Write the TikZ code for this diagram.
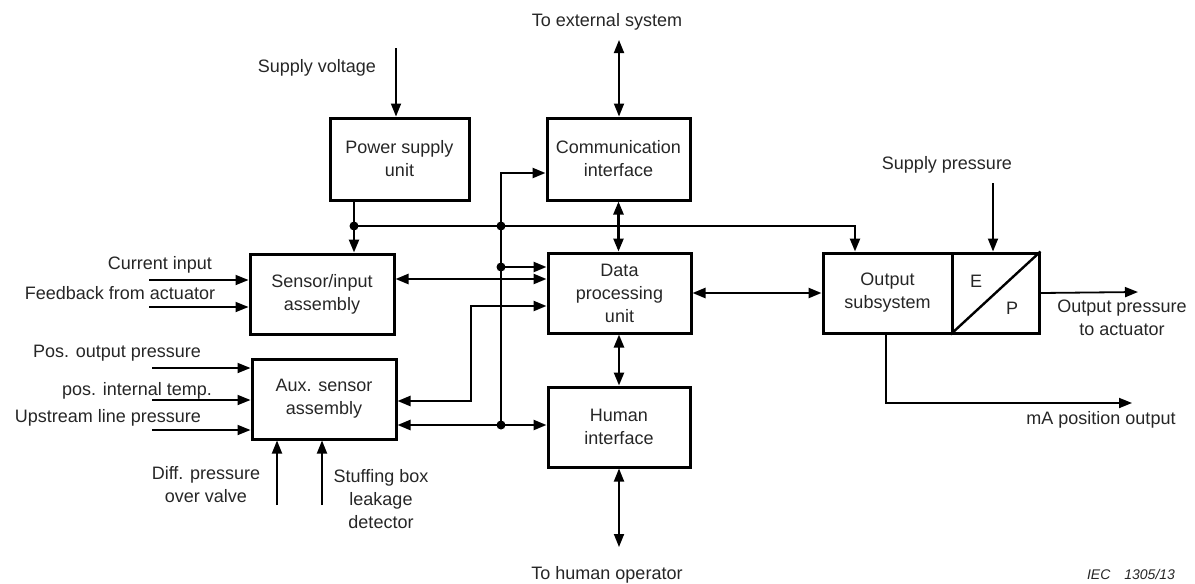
\documentclass[tikz,border=0pt]{standalone}
\usepackage{fontspec}
\setmainfont{Liberation Sans}
\usetikzlibrary{arrows.meta,calc}
\begin{document}
\begin{tikzpicture}[x=1pt,y=-1pt,
  every node/.style={text=black!85, font=\fontsize{18}{23}\selectfont},
  blk/.style={draw=black, line width=3pt, align=center, inner sep=0pt, minimum height=80pt},
  lbl/.style={align=center, inner sep=0pt},
  tip/.style={-{Triangle[length=13pt,width=10pt]}},
  dtip/.style={{Triangle[length=13pt,width=10pt]}-{Triangle[length=13pt,width=10pt]}},
  bus/.style={line width=2.4pt},
  ext/.style={line width=1.8pt},
  dot/.style={circle, fill=black, inner sep=0pt, minimum size=9pt}]
\useasboundingbox (0,0) rectangle (1195,584);

% blocks
\node[blk, minimum width=139pt, minimum height=82pt] (psu) at (399.5,159) {Power supply\\unit};
\node[blk, minimum width=143pt, minimum height=82pt] (comm) at (618.5,159) {Communication\\interface};
\node[blk, minimum width=144pt] (sens) at (322,294) {Sensor/input\\assembly};
\node[blk, minimum width=143pt] (dpu) at (619.5,293) {Data\\processing\\unit};
\node[blk, minimum width=144pt] (aux) at (324,399) {Aux. sensor\\assembly};
\node[blk, minimum width=142pt] (hmi) at (619,427) {Human\\interface};
\node[blk, minimum width=129pt] (out) at (887.5,293) {Output\\subsystem};
\node[blk, minimum width=87pt] (ep) at (995.5,293) {};
\draw[line width=2.4pt] (ep.south west) -- (ep.north east);
\node[lbl] (eE) at (976,281) {E};
\node[lbl] (eP) at (1012,308) {P};

% coordinates
\coordinate (pd) at (354,226);
\coordinate (bd1) at (501,226);
\coordinate (btop) at (501,173);
\coordinate (bd2) at (501,267);
\coordinate (bd3) at (501,425);
\coordinate (ob) at (855,226);
\coordinate (sd) at (0,279);
\coordinate (ad1) at (471,306);
\coordinate (ad2) at (471,401);
\coordinate (sv) at (396,48);
\coordinate (xt) at (619,40);
\coordinate (ho) at (619,547);
\coordinate (sp) at (993,183);
\coordinate (op) at (1138,292);
\coordinate (ma1) at (886,403);
\coordinate (ma2) at (1132,403);
\coordinate (ci) at (149,280);
\coordinate (fb) at (149,307);
\coordinate (a1) at (152,368);
\coordinate (a2) at (152,400);
\coordinate (a3) at (152,430);
\coordinate (b1) at (277,505);
\coordinate (b2) at (322,505);

% power distribution
\draw[bus] (pd |- psu.south) -- (pd);
\draw[bus,tip] (pd) -- (pd |- sens.north);
\draw[bus,tip] (pd) -- (ob) -- (ob |- out.north);

% data bus
\draw[bus,tip] (bd3) -- (btop) -- (btop -| comm.west);
\draw[bus,tip] (bd2) -- (bd2 -| dpu.west);
\draw[bus,dtip] (sd -| sens.east) -- (sd -| dpu.west);
\draw[bus,dtip] (ad2 -| aux.east) -- (ad2) -- (ad1) -- (ad1 -| dpu.west);
\draw[bus,dtip] (bd3 -| aux.east) -- (bd3 -| hmi.west);
\draw[bus,dtip] (comm.south) -- (comm.south |- dpu.north);
\draw[bus,dtip] (hmi.north -| 619,0) -- (dpu.south -| 619,0);
\draw[bus,dtip] (dpu.east) -- (out.west);

\node[dot] (d1) at (pd) {};
\node[dot] (d2) at (bd1) {};
\node[dot] (d3) at (bd2) {};
\node[dot] (d4) at (bd3) {};

% external connections
\draw[ext,tip] (sv) -- (sv |- psu.north);
\draw[ext,dtip] (xt) -- (xt |- comm.north);
\draw[ext,dtip] (hmi.south -| ho) -- (ho);
\draw[ext,tip] (sp) -- (sp |- ep.north);
\draw[ext,tip] (ep.east) -- (op);
\draw[ext,tip] (ma1 |- out.south) -- (ma1) -- (ma2);
\draw[ext,tip] (ci) -- (ci -| sens.west);
\draw[ext,tip] (fb) -- (fb -| sens.west);
\draw[ext,tip] (a1) -- (a1 -| aux.west);
\draw[ext,tip] (a2) -- (a2 -| aux.west);
\draw[ext,tip] (a3) -- (a3 -| aux.west);
\draw[ext,tip] (b1) -- (b1 |- aux.south);
\draw[ext,tip] (b2) -- (b2 |- aux.south);

% labels
\node[lbl] (lsv) at (317,68) {Supply voltage};
\node[lbl] (lxt) at (607,22) {To external system};
\node[lbl] (lho) at (607,575) {To human operator};
\node[lbl] (lsp) at (947,165) {Supply pressure};
\node[lbl] (lci) at (160,265) {Current input};
\node[lbl] (lfb) at (120,293) {Feedback from actuator};
\node[lbl] (la1) at (117,353) {Pos. output pressure};
\node[lbl] (la2) at (137,391) {pos. internal temp.};
\node[lbl] (la3) at (108,418) {Upstream line pressure};
\node[lbl] (lb1) at (206,485) {Diff. pressure\\over valve};
\node[lbl] (lb2) at (381,499) {Stuffing box\\leakage\\detector};
\node[lbl] (lop) at (1122,318) {Output pressure\\to actuator};
\node[lbl] (lma) at (1101,420) {mA position output};
\node[lbl, font=\fontsize{14}{16}\selectfont\itshape] (iec) at (1131,574) {IEC\quad1305/13};
\end{tikzpicture}
\end{document}
